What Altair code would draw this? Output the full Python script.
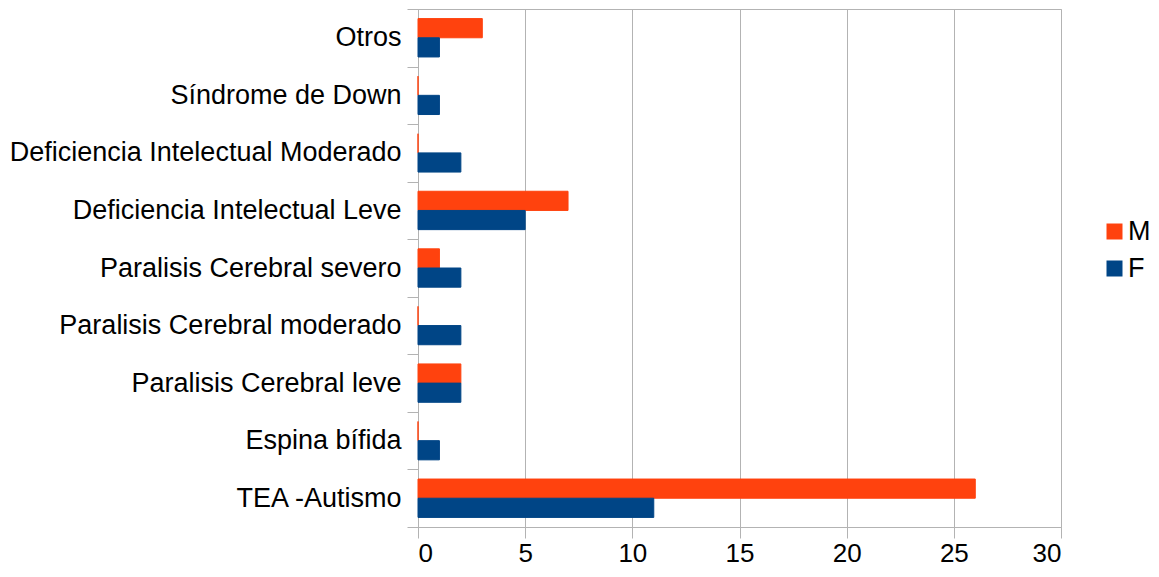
import altair as alt
import pandas as pd

categories = ["Otros", "Síndrome de Down", "Deficiencia Intelectual Moderado",
              "Deficiencia Intelectual Leve", "Paralisis Cerebral severo",
              "Paralisis Cerebral moderado", "Paralisis Cerebral leve",
              "Espina bífida", "TEA -Autismo"]
m_values = [3, 0, 0, 7, 1, 0, 2, 0, 26]
f_values = [1, 1, 2, 5, 2, 2, 2, 1, 11]
series = ["M", "F"]
colors = ["#ff420e", "#004586"]
x_ticks = [0, 5, 10, 15, 20, 25, 30]

rows = []
for c, m, f in zip(categories, m_values, f_values):
    rows.append({"cat": c, "sexo": "M", "val": m})
    rows.append({"cat": c, "sexo": "F", "val": f})
df = pd.DataFrame(rows)

FONT = "Liberation Sans"
FS = 27

color_scale = alt.Scale(domain=series, range=colors)

chart = alt.Chart(df).mark_bar(strokeWidth=1).encode(
    y=alt.Y("cat:N", sort=categories,
            scale=alt.Scale(paddingInner=0, paddingOuter=0),
            axis=alt.Axis(title=None, tickBand="extent", labelFontSize=FS,
                          labelFont=FONT, labelColor="#000000",
                          tickColor="#b3b3b3", domainColor="#b3b3b3",
                          tickSize=11, labelPadding=6, labelLimit=600,
                          grid=False)),
    yOffset=alt.YOffset("sexo:N", sort=series,
                        scale=alt.Scale(paddingInner=0, paddingOuter=0.5)),
    x=alt.X("val:Q", scale=alt.Scale(domain=[0, 30], nice=False),
            axis=alt.Axis(title=None, values=x_ticks, labelFontSize=26,
                          labelFont=FONT, labelColor="#000000",
                          tickColor="#b3b3b3", domainColor="#b3b3b3",
                          gridColor="#b3b3b3", tickSize=11, labelPadding=2,
                          grid=True)),
    stroke=alt.Stroke("sexo:N", scale=color_scale, legend=None),
    color=alt.Color("sexo:N", sort=series, scale=color_scale,
                    legend=alt.Legend(title=None, orient="none",
                                      legendX=683, legendY=209,
                                      symbolType="square", symbolSize=256,
                                      symbolStrokeWidth=0, padding=0,
                                      labelFontSize=FS, labelFont=FONT,
                                      labelColor="#000000", rowPadding=9,
                                      labelOffset=0)),
).properties(
    width=643, height=518,
    autosize=alt.AutoSizeParams(type="none"),
    padding={"left": 410, "top": 1, "right": 90, "bottom": 42},
).configure_view(stroke="#b3b3b3", strokeWidth=1)

chart.save("out.html", embed_options={"renderer": "svg", "actions": False})
